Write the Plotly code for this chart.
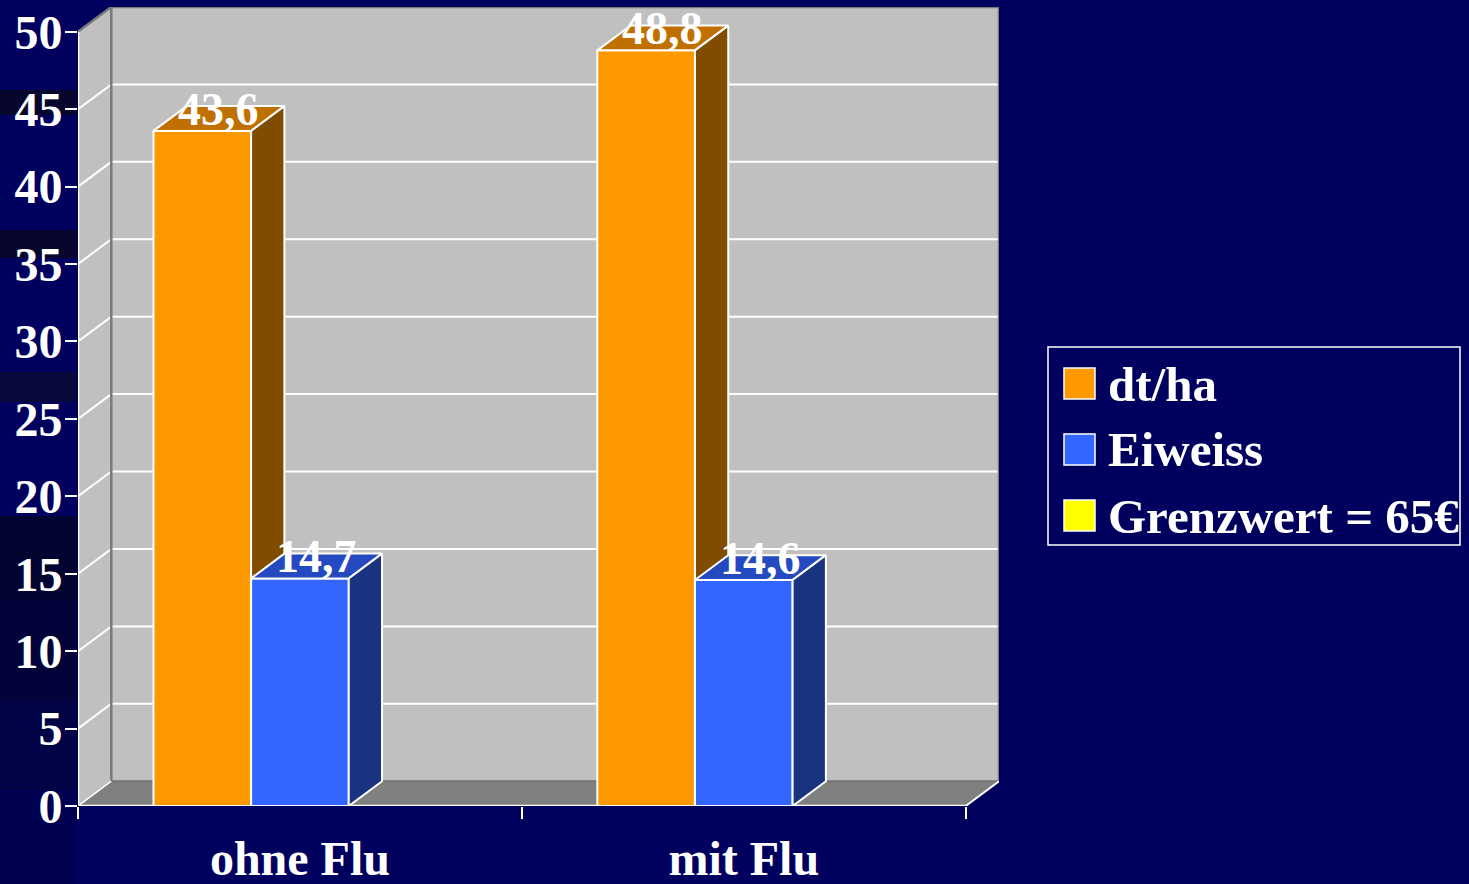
import plotly.graph_objects as go

# ---------------- data ----------------
categories = ["ohne Flu", "mit Flu"]
series_names = ["dt/ha", "Eiweiss", "Grenzwert = 65€"]
dt_ha = [43.6, 48.8]
eiweiss = [14.7, 14.6]
grenzwert = [None, None]
y_tick_values = [0, 5, 10, 15, 20, 25, 30, 35, 40, 45, 50]

series_values = [dt_ha, eiweiss, grenzwert]

# ---------------- style ----------------
front_colors = ["#FF9900", "#3366FF", "#FFFF00"]
top_colors = ["#C07000", "#2449C0", "#C0C000"]
side_colors = ["#7F4C00", "#1A3380", "#808000"]
BG = "#00005F"
WALL = "#C0C0C0"
FLOOR = "#808080"
EDGE = "#7A7A7A"
FONT = "Liberation Serif"

W, H = 1469, 884
bar_w = 0.22        # width of one bar, in category units
dx, dy = 0.075, 1.6  # 3D depth offset, in axis units
y_max = max(y_tick_values)
n_cat = len(categories)

L, R_px, T, B_px = 78, 999, 7, 806

fig = go.Figure()


def poly(xs, ys, fill, line_color=None, lw=0):
    fig.add_trace(go.Scatter(
        x=list(xs) + [xs[0]], y=list(ys) + [ys[0]], mode="lines",
        fill="toself", fillcolor=fill,
        line=dict(color=line_color or fill, width=lw),
        hoverinfo="skip", showlegend=False))


def line(xs, ys, color, lw):
    fig.add_trace(go.Scatter(x=xs, y=ys, mode="lines",
                             line=dict(color=color, width=lw),
                             hoverinfo="skip", showlegend=False))


# walls
poly([0, 0, dx, dx], [0, y_max, y_max + dy, dy], WALL)
poly([dx, n_cat + dx, n_cat + dx, dx], [dy, dy, y_max + dy, y_max + dy], WALL)

# gridlines (back wall + side wall)
gx, gy = [], []
for v in y_tick_values[1:-1]:
    gx += [0, dx, n_cat + dx, None]
    gy += [v, v + dy, v + dy, None]
line(gx, gy, "white", 2)

# wall edges
line([0, dx, n_cat + dx, n_cat + dx], [y_max, y_max + dy, y_max + dy, dy], EDGE, 2.5)
line([dx, dx], [dy, y_max + dy], EDGE, 2.5)

# floor
poly([0, n_cat, n_cat + dx, dx], [0, 0, dy, dy], FLOOR)
line([dx, n_cat + dx], [dy, dy], "#737373", 2)
line([n_cat, n_cat + dx], [0, dy], "white", 2)
line([0, n_cat], [0, 0], "white", 2.5)
line([0, 0], [0, y_max], "white", 2.5)
line([0, dx], [0, dy], "white", 1.5)

# bars
n_ser = len(series_values)
for ci in range(n_cat):
    center = ci + 0.5
    for si in range(n_ser):
        v = series_values[si][ci]
        if v is None:
            continue
        x0 = center + (si - n_ser / 2) * bar_w
        x1 = x0 + bar_w
        # front
        poly([x0, x1, x1, x0], [0, 0, v, v], front_colors[si], "white", 2)
        # top
        poly([x0, x1, x1 + dx, x0 + dx], [v, v, v + dy, v + dy], top_colors[si], "white", 2)
        # side
        poly([x1, x1 + dx, x1 + dx, x1], [0, dy, v + dy, v], side_colors[si], "white", 2)
        fig.add_annotation(
            x=(x0 + x1) / 2 + dx / 2, y=v + dy / 2, xref="x", yref="y",
            text=f"{v:.1f}".replace(".", ","), showarrow=False, yshift=9,
            font=dict(family=FONT, size=46, color="white", weight="bold"))

# ---------------- paper helpers ----------------
pw, ph = R_px - L, B_px - T


def px(xp):
    return (xp - L) / pw


def py(yp):
    return (B_px - yp) / ph


# subtle dark swoosh bands of the slide background (left margin)
for y0p, y1p, col in [(90, 115, "#07072E"), (230, 258, "#07072E"), (372, 402, "#08083C"),
                      (516, 600, "#040432"), (600, 700, "#03033A"), (700, 790, "#020247"),
                      (790, 884, "#000053")]:
    fig.add_shape(type="rect", xref="paper", yref="paper", layer="below",
                  x0=px(0), x1=px(77), y0=py(y1p), y1=py(y0p),
                  line=dict(width=0), fillcolor=col)

# ---------------- legend (manual) ----------------
fig.add_shape(type="rect", xref="paper", yref="paper",
              x0=px(1048), x1=px(1460), y0=py(545), y1=py(347),
              line=dict(color="white", width=1.5), fillcolor="rgba(0,0,0,0)")
for i, name in enumerate(series_names):
    top = 368 + i * 66
    fig.add_shape(type="rect", xref="paper", yref="paper",
                  x0=px(1064), x1=px(1095), y0=py(top + 31), y1=py(top),
                  line=dict(color="white", width=1.5), fillcolor=front_colors[i])
    fig.add_annotation(x=px(1106), y=py(top + 16), xref="paper", yref="paper",
                       text=name, showarrow=False, xanchor="left", yanchor="middle",
                       font=dict(family=FONT, size=49, color="white", weight="bold"))

fig.update_layout(
    width=W, height=H, autosize=False,
    margin=dict(l=L, r=W - R_px, t=T, b=H - B_px, pad=0, autoexpand=False),
    paper_bgcolor=BG, plot_bgcolor=BG,
    showlegend=False,
    xaxis=dict(range=[0, n_cat + dx], showgrid=False, zeroline=False, showline=False,
               automargin=False,
               tickmode="array", tickvals=[i + 0.5 for i in range(n_cat)], ticktext=categories,
               ticks="", ticklabelstandoff=20,
               tickfont=dict(family=FONT, size=48, color="white", weight="bold"),
               minor=dict(tickmode="array", tickvals=list(range(n_cat + 1)), ticks="outside",
                          ticklen=12, tickwidth=2, tickcolor="white", showgrid=False),
               fixedrange=True),
    yaxis=dict(range=[0, y_max + dy], showgrid=False, zeroline=False, showline=False,
               automargin=False,
               tickmode="array", tickvals=y_tick_values, ticks="outside", ticklen=12,
               tickwidth=2, tickcolor="white", ticklabelstandoff=-7,
               tickfont=dict(family=FONT, size=48, color="white", weight="bold"),
               fixedrange=True),
)

fig.write_html(
    "out.html",
    config={"displayModeBar": False},
    post_script="document.body.style.margin='0';document.body.style.background='" + BG + "';",
)
